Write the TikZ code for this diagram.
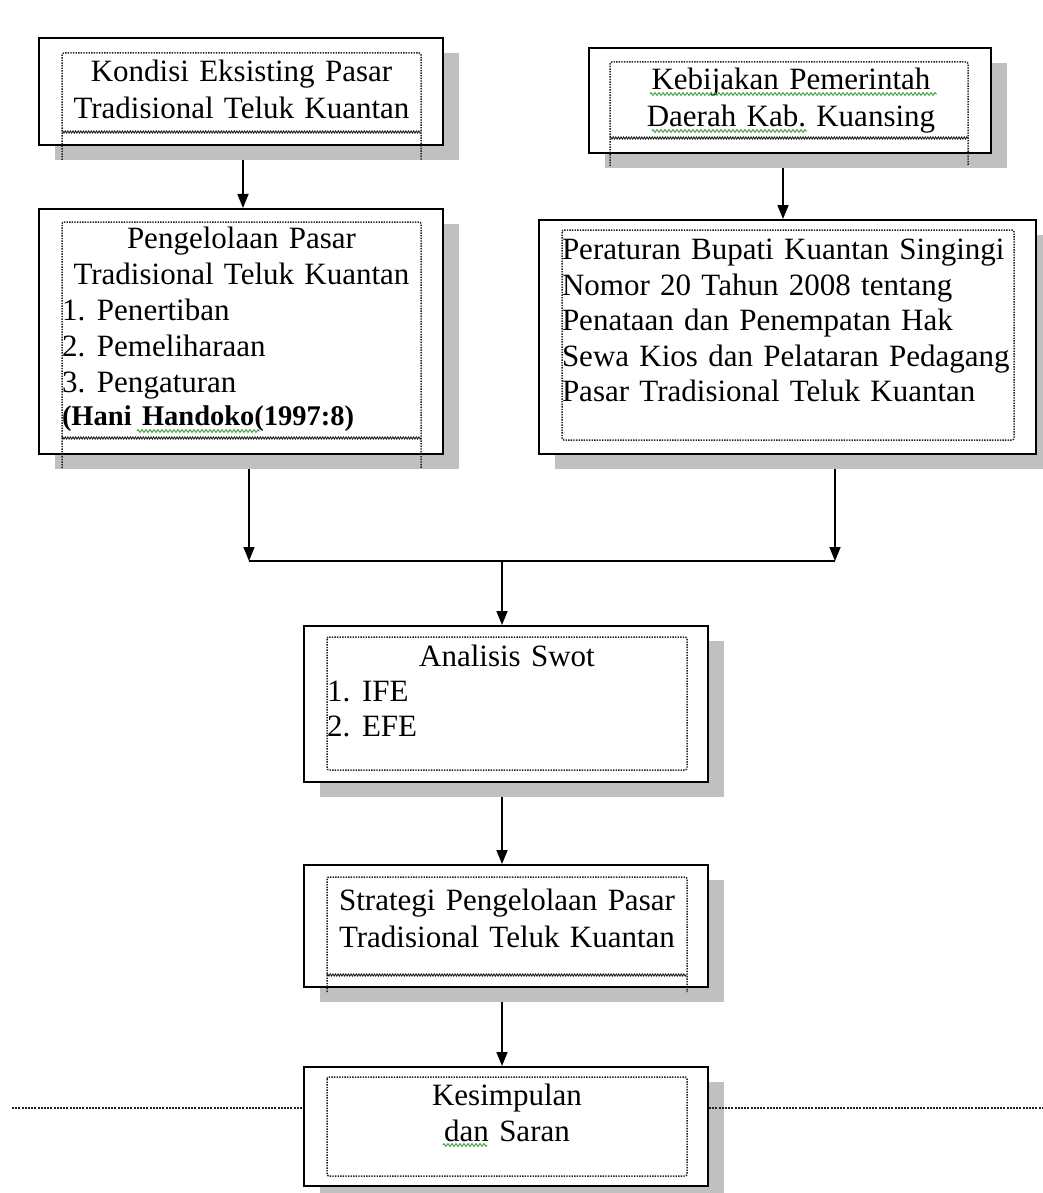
\documentclass[tikz,border=0pt]{standalone}
\usepackage{fontspec}
\setmainfont{Liberation Serif}
\usetikzlibrary{arrows.meta,shadows,decorations.pathmorphing}
\pgfdeclarelayer{bg}
\pgfsetlayers{bg,main}
\definecolor{shadowgray}{HTML}{C0C0C0}
\definecolor{spellgreen}{HTML}{3A9A3A}
\definecolor{framegray}{HTML}{202020}
\setlength\parindent{0pt}
\frenchspacing
\newcommand{\itm}[2]{\makebox[35pt][l]{#1}#2}
\begin{document}
\begin{tikzpicture}[x=1pt,y=-1pt,
  box/.style={draw=black, line width=2pt, fill=white, inner sep=0pt,
    general shadow={fill=shadowgray, shadow xshift=16pt, shadow yshift=-15pt}},
  txt/.style={anchor=north west, inner sep=0pt, outer sep=0pt},
  frame/.style={draw=framegray, line width=1.5pt, dash pattern=on 1.4pt off 1.2pt, rounded corners=2pt},
  overflow/.style={draw=framegray, line width=0.9pt, decorate,
    decoration={zigzag, amplitude=1.1pt, segment length=2.6pt}},
  spell/.style={draw=spellgreen, line width=0.9pt, decorate,
    decoration={zigzag, amplitude=1.4pt, segment length=4pt}},
  conn/.style={draw=black, line width=1.6pt},
  arr/.style={conn, -{Triangle[length=14pt,width=11pt]}},
  dotline/.style={draw=framegray, line width=2.2pt, dash pattern=on 2pt off 1.2pt}
]
\useasboundingbox (0,0) rectangle (1042,1193);

% connector reference points
\coordinate (ka) at (243,0);
\coordinate (kb) at (783,0);
\coordinate (jl) at (249,561);
\coordinate (jr) at (835,561);
\coordinate (jm) at (502,561);
\coordinate (dl) at (12,1108);
\coordinate (dr) at (1042,1108);

% boxes
\node[box, minimum width=404pt, minimum height=107pt] (kondisi) at (241,91.5) {};
\node[box, minimum width=402pt, minimum height=105pt] (kebijakan) at (790,100.5) {};
\node[box, minimum width=404pt, minimum height=245pt] (pengelolaan) at (241,331.5) {};
\node[box, minimum width=497pt, minimum height=234pt] (peraturan) at (787.5,337) {};
\node[box, minimum width=404pt, minimum height=156pt] (swot) at (506,704) {};
\node[box, minimum width=404pt, minimum height=122pt] (strategi) at (506,926) {};
\node[box, minimum width=404pt, minimum height=119pt] (kesimpulan) at (506,1126.5) {};

% inner dotted text frames
\draw[frame] (62,160) -- (62,53) -- (421,53) -- (421,160);
\draw[overflow] (62,132) -- (421,132);
\draw[frame] (610,166) -- (610,62) -- (968,62) -- (968,166);
\draw[overflow] (610,138) -- (968,138);
\draw[frame] (62,468) -- (62,222) -- (421,222) -- (421,468);
\draw[overflow] (62,438) -- (421,438);
\draw[frame] (562,230) rectangle (1014,440);
\draw[frame] (327,637) rectangle (687,770);
\draw[frame] (327,992) -- (327,877) -- (687,877) -- (687,992);
\draw[overflow] (327,975) -- (687,975);
\draw[frame] (327,1077) rectangle (687,1176);

% texts
\node[txt, text width=359pt, align=center, font=\fontsize{31}{37}\selectfont] (t1) at (62,56.1)
  {\strut Kondisi Eksisting Pasar\\Tradisional Teluk Kuantan};
\node[txt, text width=358pt, align=center, font=\fontsize{31}{37}\selectfont] (t3) at (612,64.1)
  {\strut Kebijakan Pemerintah\\Daerah Kab. Kuansing};
\node[txt, text width=359pt, font=\fontsize{31}{36}\selectfont] (t2) at (62,223.1)
  {\centering\strut Pengelolaan Pasar\\Tradisional Teluk Kuantan\par
   \raggedright\itm{1.}{Penertiban}\\\itm{2.}{Pemeliharaan}\\\itm{3.}{Pengaturan}\par
   {\fontsize{28.5}{33.5}\selectfont\bfseries (Hani Handoko(1997:8)\par}};
\node[txt, text width=480pt, align=left, font=\fontsize{31}{35.4}\selectfont] (t4) at (562,235.2)
  {\strut Peraturan Bupati Kuantan Singingi\\Nomor 20 Tahun 2008 tentang\\Penataan dan Penempatan Hak\\Sewa Kios dan Pelataran Pedagang\\Pasar Tradisional Teluk Kuantan};
\node[txt, text width=360pt, font=\fontsize{31}{35}\selectfont] (t5) at (327,642.2)
  {\centering\strut Analisis Swot\par
   \raggedright\itm{1.}{IFE}\\\itm{2.}{EFE}\par};
\node[txt, text width=360pt, align=center, font=\fontsize{31}{37}\selectfont] (t6) at (327,884.1)
  {\strut Strategi Pengelolaan Pasar\\Tradisional Teluk Kuantan};
\node[txt, text width=360pt, align=center, font=\fontsize{31}{36}\selectfont] (t7) at (327,1079.8)
  {\strut Kesimpulan\\dan Saran};

% spell-check underlines
\draw[spell] (650,94) -- (937,94);
\draw[spell] (652,131) -- (807,131);
\draw[spell] (137,431) -- (260,431);
\draw[spell] (443,1145) -- (487,1145);

% dotted horizontal line
\draw[dotline] (dl) -- (kesimpulan.west |- dl);
\draw[dotline] (kesimpulan.east |- dr) -- (dr);

% connectors
\begin{pgfonlayer}{bg}
  \draw[arr] (kondisi.south -| ka) -- (pengelolaan.north -| ka);
  \draw[arr] (kebijakan.south -| kb) -- (peraturan.north -| kb);
  \draw[arr] (pengelolaan.south -| jl) -- (jl);
  \draw[arr] (peraturan.south -| jr) -- (jr);
  \draw[conn] (jl) -- (jr);
  \draw[arr] (jm) -- (swot.north -| jm);
  \draw[arr] (swot.south -| jm) -- (strategi.north -| jm);
  \draw[arr] (strategi.south -| jm) -- (kesimpulan.north -| jm);
\end{pgfonlayer}
\end{tikzpicture}
\end{document}
